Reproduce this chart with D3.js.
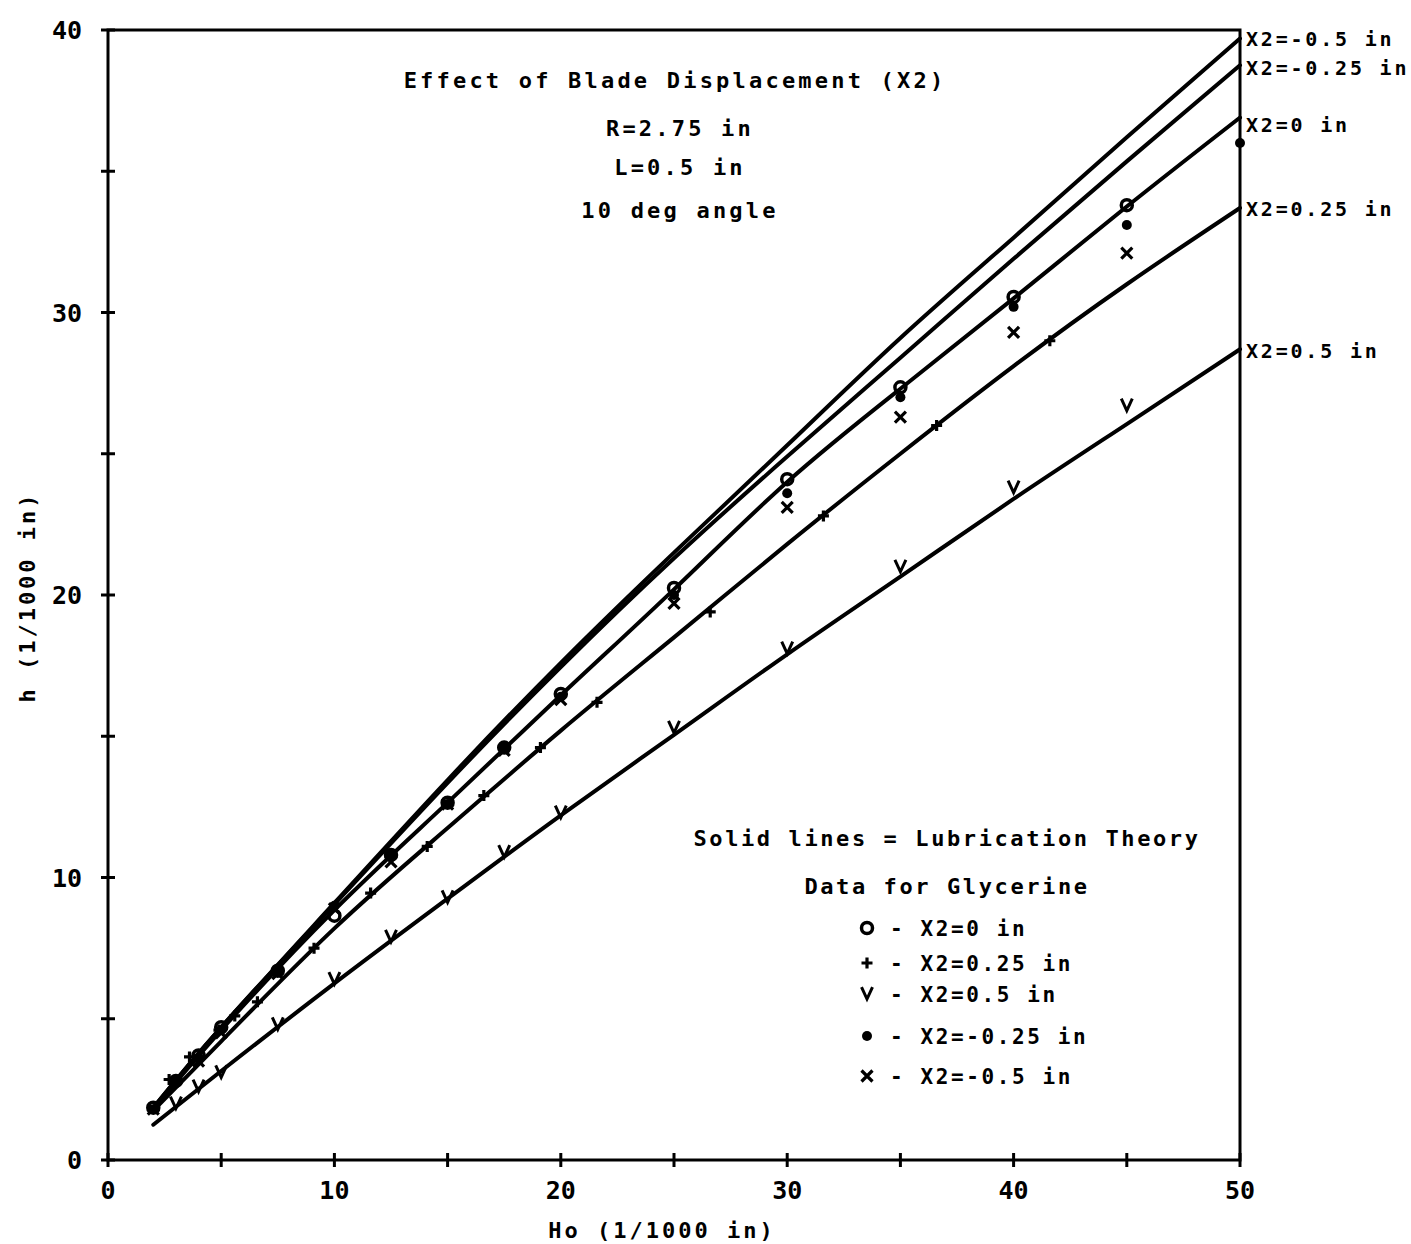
<!DOCTYPE html>
<html>
<head>
<meta charset="utf-8">
<script src="https://cdn.jsdelivr.net/npm/d3@7"></script>
<style>
  body { margin: 0; background: #fff; }
  text { font-family: "DejaVu Sans Mono", monospace; font-weight: bold; fill: #000; }
</style>
</head>
<body>
<script>
// ---- data (Ho and h both in 1/1000 in) ----
const theoryHo = [2, 5, 10, 15, 20, 25, 30, 35, 40, 45, 50];
const theoryM050 = [1.85, 4.7, 9.1, 13.45, 17.6, 21.5, 25.3, 29.1, 32.65, 36.2, 39.7];
const theoryM025 = [1.85, 4.7, 9.05, 13.35, 17.45, 21.3, 24.9, 28.4, 31.9, 35.35, 38.75];
const theoryZero = [1.8, 4.6, 8.85, 12.65, 16.45, 20.2, 24.0, 27.3, 30.5, 33.75, 36.9];
const theoryP025 = [1.75, 4.2, 8.2, 11.75, 15.2, 18.5, 21.8, 25.0, 28.1, 31.0, 33.7];
const theoryP050 = [1.25, 3.15, 6.25, 9.25, 12.2, 15.05, 17.9, 20.65, 23.4, 26.05, 28.7];

const lineLabels = ["X2=-0.5 in", "X2=-0.25 in", "X2=0 in", "X2=0.25 in", "X2=0.5 in"];

// glycerine data
const zeroHo = [2, 3, 4, 5, 7.5, 10, 12.5, 15, 17.5, 20, 25, 30, 35, 40, 45];
const zeroH  = [1.85, 2.8, 3.7, 4.7, 6.7, 8.65, 10.8, 12.65, 14.6, 16.5, 20.25, 24.1, 27.35, 30.55, 33.8];

const p025Ho = [2.7, 3.6, 4.9, 5.6, 6.6, 9.1, 11.6, 14.1, 16.6, 19.1, 21.6, 26.6, 31.6, 36.6, 41.6];
const p025H  = [2.85, 3.65, 4.6, 5.1, 5.6, 7.5, 9.45, 11.1, 12.9, 14.6, 16.2, 19.4, 22.8, 26.0, 29.0];

const p050Ho = [3, 4, 5, 7.5, 10, 12.5, 15, 17.5, 20, 25, 30, 35, 40, 45];
const p050H  = [2.0, 2.6, 3.1, 4.8, 6.4, 7.9, 9.3, 10.9, 12.3, 15.3, 18.1, 21.0, 23.8, 26.7];

const m025Ho = [2, 3, 4, 5, 7.5, 10, 12.5, 15, 17.5, 20, 25, 30, 35, 40, 45, 50];
const m025H  = [1.8, 2.8, 3.6, 4.6, 6.7, 9.0, 10.8, 12.6, 14.6, 16.4, 20.0, 23.6, 27.0, 30.2, 33.1, 36.0];

const m050Ho = [2, 4, 5, 7.5, 10, 12.5, 15, 17.5, 20, 25, 30, 35, 40, 45];
const m050H  = [1.8, 3.5, 4.5, 6.6, 8.9, 10.55, 12.6, 14.5, 16.3, 19.7, 23.1, 26.3, 29.3, 32.1];

const xTickLabels = [0, 10, 20, 30, 40, 50];
const yTickLabels = [0, 10, 20, 30, 40];
const minorTicks = d3.range(0, 51, 5);

const titleLines = ["Effect of Blade Displacement (X2)", "R=2.75 in", "L=0.5 in", "10 deg angle"];
const legendHead = ["Solid lines = Lubrication Theory", "Data for Glycerine"];
const legendItems = [
  { sym: "o", text: "X2=0 in" },
  { sym: "+", text: "X2=0.25 in" },
  { sym: "v", text: "X2=0.5 in" },
  { sym: "*", text: "X2=-0.25 in" },
  { sym: "x", text: "X2=-0.5 in" }
];

// ---- layout ----
const width = 1411, height = 1244;
const x0 = 108, x1 = 1240, yTop = 30, yBot = 1160;

const x = d3.scaleLinear().domain([0, 50]).range([x0, x1]);
const y = d3.scaleLinear().domain([0, 40]).range([yBot, yTop]);

const svg = d3.select("body").append("svg")
  .attr("width", width)
  .attr("height", height);

// frame
svg.append("rect")
  .attr("x", x0).attr("y", yTop)
  .attr("width", x1 - x0).attr("height", yBot - yTop)
  .attr("fill", "none").attr("stroke", "#000").attr("stroke-width", 3);

// ticks on left and bottom (crossing the axis line)
svg.append("g").selectAll("line")
  .data(minorTicks.filter(d => d <= 40))
  .join("line")
  .attr("x1", x0 - 7).attr("x2", x0 + 7)
  .attr("y1", d => y(d)).attr("y2", d => y(d))
  .attr("stroke", "#000").attr("stroke-width", 3);

svg.append("g").selectAll("line")
  .data(minorTicks)
  .join("line")
  .attr("x1", d => x(d)).attr("x2", d => x(d))
  .attr("y1", yBot - 7).attr("y2", yBot + 7)
  .attr("stroke", "#000").attr("stroke-width", 3);

// tick labels
svg.append("g").selectAll("text")
  .data(yTickLabels)
  .join("text")
  .attr("x", x0 - 26).attr("y", d => y(d) + 9)
  .attr("text-anchor", "end")
  .style("font-size", "25px")
  .text(d => d);

svg.append("g").selectAll("text")
  .data(xTickLabels)
  .join("text")
  .attr("x", d => x(d)).attr("y", yBot + 39)
  .attr("text-anchor", "middle")
  .style("font-size", "25px")
  .text(d => d);

// axis titles
svg.append("text")
  .attr("x", 662).attr("y", 1238)
  .attr("text-anchor", "middle")
  .style("font-size", "22px").style("letter-spacing", "3px")
  .text("Ho (1/1000 in)");

svg.append("text")
  .attr("transform", "translate(35,597) rotate(-90)")
  .attr("text-anchor", "middle")
  .style("font-size", "22px").style("letter-spacing", "3px")
  .text("h (1/1000 in)");

// theory curves
const curves = [theoryM050, theoryM025, theoryZero, theoryP025, theoryP050];
const line = d3.line()
  .x((d, i) => x(theoryHo[i]))
  .y(d => y(d))
  .curve(d3.curveNatural);

svg.append("g").selectAll("path")
  .data(curves)
  .join("path")
  .attr("d", line)
  .attr("fill", "none")
  .attr("stroke", "#000")
  .attr("stroke-width", 4)
  .attr("stroke-linecap", "round");

// curve labels at right edge
svg.append("g").selectAll("text")
  .data(curves)
  .join("text")
  .attr("x", x1 + 6)
  .attr("y", (d, i) => [38, 67, 124, 208, 350][i] + 8)
  .style("font-size", "20px").style("letter-spacing", "2.8px")
  .text((d, i) => lineLabels[i]);

// marker shapes
function drawMarker(g, sym, cx, cy) {
  const s = 5.5;
  if (sym === "o") {
    g.append("circle").attr("cx", cx).attr("cy", cy).attr("r", 5.5)
      .attr("fill", "none").attr("stroke", "#000").attr("stroke-width", 3.5);
  } else if (sym === "+") {
    g.append("path")
      .attr("d", `M${cx - s},${cy}H${cx + s}M${cx},${cy - s}V${cy + s}`)
      .attr("stroke", "#000").attr("stroke-width", 3.2);
  } else if (sym === "v") {
    g.append("path")
      .attr("d", `M${cx - 5.5},${cy - 7}L${cx},${cy + 5}L${cx + 5.5},${cy - 7}`)
      .attr("fill", "none").attr("stroke", "#000").attr("stroke-width", 3);
  } else if (sym === "*") {
    g.append("circle").attr("cx", cx).attr("cy", cy).attr("r", 5).attr("fill", "#000");
  } else if (sym === "x") {
    g.append("path")
      .attr("d", `M${cx - s},${cy - s}L${cx + s},${cy + s}M${cx + s},${cy - s}L${cx - s},${cy + s}`)
      .attr("stroke", "#000").attr("stroke-width", 3.2);
  }
}

const series = [
  { sym: "o", ho: zeroHo, h: zeroH },
  { sym: "+", ho: p025Ho, h: p025H },
  { sym: "v", ho: p050Ho, h: p050H },
  { sym: "*", ho: m025Ho, h: m025H },
  { sym: "x", ho: m050Ho, h: m050H }
];

const markers = svg.append("g");
series.forEach(s => {
  s.ho.forEach((ho, i) => drawMarker(markers, s.sym, x(ho), y(s.h[i])));
});

// title block
svg.append("g").selectAll("text")
  .data(titleLines)
  .join("text")
  .attr("x", (d, i) => i === 0 ? 675 : 680)
  .attr("y", (d, i) => [88, 136, 175, 218][i])
  .attr("text-anchor", "middle")
  .style("font-size", "22px").style("letter-spacing", "3.2px")
  .text(d => d);

// legend
svg.append("g").selectAll("text")
  .data(legendHead)
  .join("text")
  .attr("x", 947)
  .attr("y", (d, i) => [846, 894][i])
  .attr("text-anchor", "middle")
  .style("font-size", "22px").style("letter-spacing", "2.6px")
  .text(d => d);

const legendY = [928, 963, 994, 1036, 1076];
const leg = svg.append("g");
legendItems.forEach((d, i) => {
  drawMarker(leg, d.sym, 867, legendY[i]);
  leg.append("text")
    .attr("x", 890).attr("y", legendY[i] + 8)
    .style("font-size", "21px").style("letter-spacing", "2.6px")
    .text("- " + d.text);
});
</script>
</body>
</html>
